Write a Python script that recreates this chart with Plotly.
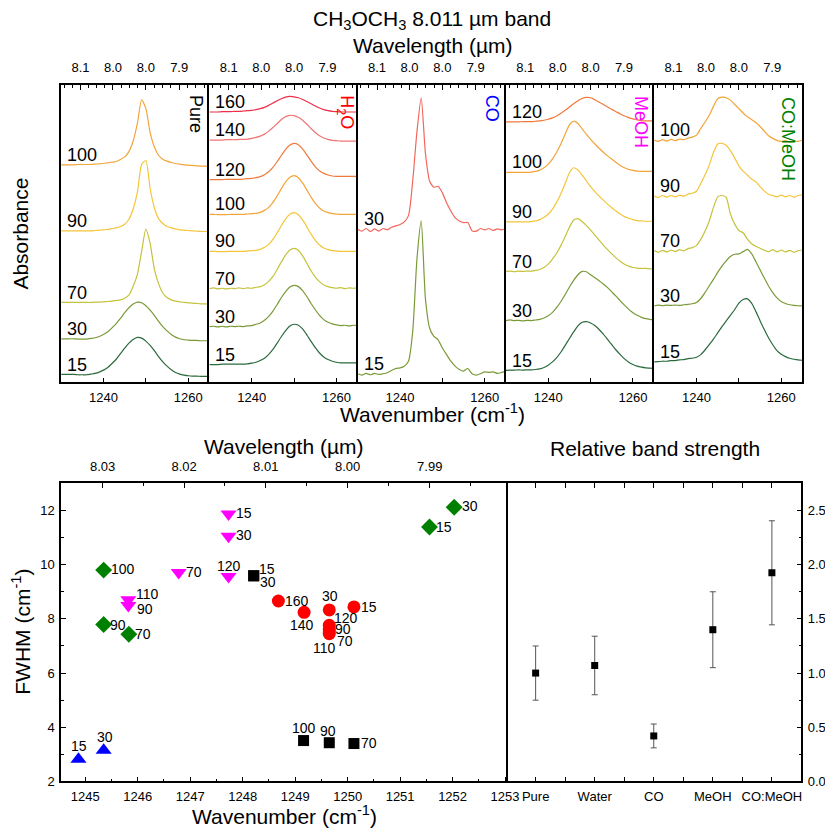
import plotly.graph_objects as go

W, H = 833, 830
FONT = "Liberation Sans, Arial, sans-serif"

# wavenumber grid of the spectra (cm-1)
WN = [1230, 1231, 1232, 1233, 1234, 1235, 1236, 1237, 1238, 1239,
      1240, 1241, 1242, 1243, 1244, 1245, 1246, 1247, 1248, 1249,
      1250, 1251, 1252, 1253, 1254, 1255, 1256, 1257, 1258, 1259,
      1260, 1261, 1262, 1263, 1264, 1265]

# absorbance + offset, keyed by temperature (K)
PURE = {
    15: [0.24, 0.24, 0.24, 0.24, 0.23, 0.23, 0.23, 0.25, 0.27, 0.31, 0.37, 0.45, 0.57, 0.70, 0.87, 1.04, 1.19, 1.30, 1.36, 1.34,
         1.25, 1.12, 0.96, 0.78, 0.62, 0.49, 0.38, 0.30, 0.25, 0.22, 0.20, 0.19, 0.19, 0.18, 0.18, 0.18],
    30: [1.32, 1.32, 1.32, 1.32, 1.31, 1.31, 1.31, 1.33, 1.35, 1.39, 1.45, 1.53, 1.65, 1.78, 1.94, 2.11, 2.26, 2.37, 2.43, 2.41,
         2.32, 2.19, 2.03, 1.85, 1.69, 1.56, 1.45, 1.37, 1.32, 1.29, 1.28, 1.27, 1.27, 1.26, 1.26, 1.26],
    70: [2.42, 2.42, 2.42, 2.42, 2.42, 2.42, 2.42, 2.42, 2.43, 2.43, 2.44, 2.45, 2.46, 2.48, 2.50, 2.55, 2.64, 2.91, 3.27, 3.97,
         4.64, 4.21, 3.43, 2.99, 2.70, 2.57, 2.50, 2.46, 2.44, 2.42, 2.41, 2.40, 2.39, 2.38, 2.38, 2.37],
    90: [4.59, 4.59, 4.59, 4.59, 4.59, 4.59, 4.59, 4.59, 4.60, 4.61, 4.62, 4.63, 4.66, 4.68, 4.72, 4.79, 4.94, 5.25, 5.76, 6.60,
         6.72, 5.88, 5.29, 4.96, 4.81, 4.72, 4.68, 4.65, 4.62, 4.61, 4.60, 4.59, 4.58, 4.57, 4.57, 4.56],
    100: [6.59, 6.59, 6.59, 6.59, 6.60, 6.60, 6.60, 6.60, 6.61, 6.62, 6.63, 6.65, 6.67, 6.69, 6.75, 6.83, 6.99, 7.31, 7.85, 8.56,
          8.30, 7.57, 7.13, 6.88, 6.76, 6.70, 6.66, 6.63, 6.61, 6.59, 6.58, 6.57, 6.56, 6.55, 6.55, 6.54],
}

H2O = {
    15: [0.54, 0.54, 0.54, 0.55, 0.55, 0.55, 0.55, 0.55, 0.55, 0.56, 0.58, 0.61, 0.66, 0.73, 0.85, 1.00, 1.19, 1.39, 1.57, 1.71,
         1.76, 1.73, 1.62, 1.44, 1.24, 1.05, 0.89, 0.77, 0.69, 0.64, 0.61, 0.59, 0.59, 0.59, 0.59, 0.59],
    30: [1.69, 1.70, 1.68, 1.70, 1.68, 1.70, 1.69, 1.70, 1.69, 1.71, 1.72, 1.76, 1.80, 1.88, 2.00, 2.16, 2.36, 2.57, 2.75, 2.89,
         2.94, 2.90, 2.78, 2.60, 2.39, 2.20, 2.03, 1.90, 1.82, 1.77, 1.74, 1.72, 1.73, 1.71, 1.73, 1.72],
    70: [2.84, 2.86, 2.83, 2.85, 2.83, 2.85, 2.84, 2.86, 2.84, 2.86, 2.85, 2.88, 2.90, 2.96, 3.06, 3.21, 3.42, 3.65, 3.86, 4.01,
         4.06, 4.00, 3.83, 3.61, 3.38, 3.19, 3.05, 2.95, 2.90, 2.87, 2.85, 2.87, 2.84, 2.86, 2.85, 2.86],
    90: [3.97, 3.97, 3.96, 3.96, 3.96, 3.97, 3.97, 3.97, 3.97, 3.98, 3.99, 4.00, 4.03, 4.09, 4.18, 4.33, 4.53, 4.75, 4.95, 5.09,
         5.14, 5.08, 4.92, 4.71, 4.49, 4.30, 4.16, 4.07, 4.02, 3.99, 3.98, 3.97, 3.97, 3.97, 3.97, 3.97],
    100: [5.09, 5.09, 5.08, 5.08, 5.08, 5.09, 5.09, 5.09, 5.09, 5.10, 5.11, 5.12, 5.15, 5.21, 5.30, 5.45, 5.65, 5.87, 6.07, 6.21,
          6.26, 6.20, 6.04, 5.83, 5.61, 5.42, 5.28, 5.19, 5.14, 5.11, 5.10, 5.09, 5.09, 5.09, 5.09, 5.09],
    120: [6.14, 6.14, 6.14, 6.14, 6.15, 6.15, 6.15, 6.15, 6.16, 6.17, 6.18, 6.20, 6.23, 6.29, 6.38, 6.51, 6.69, 6.88, 7.06, 7.19,
          7.24, 7.20, 7.07, 6.89, 6.70, 6.53, 6.41, 6.33, 6.28, 6.25, 6.24, 6.24, 6.24, 6.24, 6.24, 6.24],
    140: [7.34, 7.34, 7.34, 7.34, 7.35, 7.35, 7.35, 7.36, 7.36, 7.37, 7.39, 7.42, 7.46, 7.52, 7.61, 7.72, 7.84, 7.96, 8.05, 8.09,
          8.08, 8.03, 7.94, 7.82, 7.69, 7.57, 7.47, 7.40, 7.36, 7.33, 7.32, 7.31, 7.31, 7.31, 7.31, 7.31],
    160: [8.19, 8.19, 8.19, 8.20, 8.20, 8.20, 8.21, 8.21, 8.22, 8.23, 8.24, 8.26, 8.29, 8.33, 8.39, 8.46, 8.53, 8.59, 8.64, 8.66,
          8.65, 8.62, 8.57, 8.51, 8.44, 8.37, 8.31, 8.26, 8.23, 8.21, 8.20, 8.19, 8.19, 8.19, 8.19, 8.19],
}

CO = {
    15: [0.26, 0.22, 0.27, 0.23, 0.27, 0.24, 0.26, 0.29, 0.36, 0.42, 0.44, 0.49, 0.64, 1.54, 3.74, 4.89, 2.54, 1.64, 1.39, 1.29,
         1.04, 0.84, 0.64, 0.49, 0.39, 0.34, 0.42, 0.26, 0.22, 0.26, 0.32, 0.30, 0.32, 0.27, 0.30, 0.33],
    30: [4.64, 4.58, 4.66, 4.57, 4.65, 4.58, 4.66, 4.62, 4.70, 4.74, 4.78, 4.86, 5.05, 6.10, 7.60, 8.62, 6.94, 6.09, 5.91, 5.94,
         5.74, 5.44, 5.19, 4.99, 4.89, 4.84, 4.84, 4.59, 4.58, 4.66, 4.62, 4.66, 4.60, 4.65, 4.62, 4.66],
}

MEOH = {
    15: [0.36, 0.37, 0.37, 0.38, 0.37, 0.38, 0.38, 0.39, 0.41, 0.45, 0.52, 0.62, 0.75, 0.92, 1.12, 1.33, 1.53, 1.71, 1.82, 1.84,
         1.80, 1.72, 1.60, 1.46, 1.30, 1.14, 0.98, 0.84, 0.71, 0.61, 0.54, 0.49, 0.46, 0.44, 0.43, 0.42],
    30: [1.87, 1.89, 1.87, 1.88, 1.86, 1.88, 1.87, 1.89, 1.91, 1.95, 2.02, 2.12, 2.27, 2.45, 2.66, 2.89, 3.09, 3.26, 3.36, 3.35,
         3.26, 3.17, 3.08, 2.98, 2.87, 2.74, 2.61, 2.47, 2.34, 2.21, 2.11, 2.03, 1.97, 1.93, 1.91, 1.90],
    70: [3.36, 3.37, 3.35, 3.37, 3.36, 3.37, 3.37, 3.39, 3.42, 3.48, 3.58, 3.73, 3.92, 4.15, 4.42, 4.70, 4.92, 4.96, 4.87, 4.75,
         4.61, 4.46, 4.31, 4.16, 4.02, 3.89, 3.77, 3.67, 3.58, 3.52, 3.48, 3.46, 3.45, 3.45, 3.44, 3.44],
    90: [4.86, 4.86, 4.86, 4.86, 4.86, 4.86, 4.87, 4.89, 4.93, 5.00, 5.10, 5.25, 5.46, 5.72, 6.03, 6.35, 6.50, 6.43, 6.28, 6.10,
         5.93, 5.78, 5.64, 5.52, 5.40, 5.29, 5.19, 5.10, 5.02, 4.97, 4.93, 4.90, 4.89, 4.88, 4.88, 4.88],
    100: [6.36, 6.36, 6.36, 6.36, 6.36, 6.36, 6.37, 6.39, 6.43, 6.50, 6.61, 6.77, 6.98, 7.23, 7.52, 7.80, 7.91, 7.84, 7.68, 7.51,
          7.36, 7.22, 7.09, 6.97, 6.86, 6.76, 6.66, 6.57, 6.50, 6.45, 6.42, 6.40, 6.39, 6.39, 6.39, 6.39],
    120: [7.89, 7.89, 7.89, 7.89, 7.90, 7.90, 7.90, 7.91, 7.92, 7.94, 7.97, 8.01, 8.07, 8.15, 8.24, 8.34, 8.44, 8.53, 8.60, 8.63,
          8.62, 8.56, 8.49, 8.42, 8.34, 8.27, 8.20, 8.13, 8.07, 8.02, 7.98, 7.95, 7.93, 7.92, 7.92, 7.92],
}

COMEOH = {
    15: [0.62, 0.63, 0.64, 0.64, 0.66, 0.66, 0.68, 0.69, 0.72, 0.73, 0.76, 0.84, 0.98, 1.14, 1.31, 1.50, 1.69, 1.86, 2.03, 2.20,
         2.40, 2.51, 2.53, 2.40, 2.15, 1.87, 1.60, 1.35, 1.14, 0.96, 0.85, 0.78, 0.73, 0.70, 0.68, 0.67],
    30: [2.32, 2.34, 2.32, 2.34, 2.33, 2.34, 2.33, 2.35, 2.36, 2.38, 2.42, 2.54, 2.72, 2.92, 3.12, 3.33, 3.52, 3.68, 3.81, 3.88,
         3.89, 3.96, 4.03, 3.90, 3.66, 3.41, 3.16, 2.92, 2.72, 2.56, 2.45, 2.39, 2.35, 2.33, 2.32, 2.32],
    70: [3.99, 3.94, 4.00, 3.95, 4.01, 3.96, 4.02, 3.98, 4.05, 4.08, 4.15, 4.33, 4.58, 4.88, 5.30, 5.62, 5.66, 5.60, 5.10, 4.80,
         4.60, 4.53, 4.34, 4.20, 4.12, 4.06, 4.00, 3.96, 4.02, 3.95, 4.01, 3.95, 4.00, 3.94, 3.99, 4.01],
    90: [5.64, 5.60, 5.66, 5.61, 5.66, 5.62, 5.67, 5.64, 5.70, 5.73, 5.79, 6.02, 6.28, 6.58, 6.96, 7.22, 7.24, 7.18, 7.02, 6.80,
         6.56, 6.40, 6.28, 6.16, 6.08, 5.93, 5.80, 5.70, 5.66, 5.62, 5.67, 5.62, 5.66, 5.61, 5.66, 5.68],
    100: [7.34, 7.30, 7.35, 7.31, 7.36, 7.32, 7.37, 7.35, 7.40, 7.43, 7.49, 7.69, 7.88, 8.09, 8.36, 8.59, 8.64, 8.62, 8.55, 8.42,
          8.29, 8.16, 8.05, 7.96, 7.87, 7.75, 7.61, 7.47, 7.39, 7.33, 7.30, 7.32, 7.28, 7.31, 7.30, 7.34],
}

# top wavelength axis of the spectra (um)
WL_TICKS = [8.10, 8.05, 8.00, 7.95]
WL_TEXT = ["8.1", "8.0", "8.0", "7.9"]
WL_MINOR = [8.125, 8.1125, 8.0875, 8.075, 8.0625, 8.0375, 8.025, 8.0125,
            7.9875, 7.975, 7.9625, 7.9375, 7.925, 7.9125]

# FWHM vs peak position
PURE_T = ["15", "30", "70", "90", "100"]
PURE_WN = [1248.21, 1248.21, 1250.12, 1249.65, 1249.16]
PURE_FWHM = [9.59, 9.59, 3.40, 3.43, 3.51]

H2O_T = ["15", "30", "70", "90", "110", "120", "140", "160"]
H2O_WN = [1250.12, 1249.65, 1249.65, 1249.65, 1249.65, 1249.65, 1249.17, 1248.68]
H2O_FWHM = [8.44, 8.33, 7.45, 7.61, 7.52, 7.76, 8.24, 8.66]

CO_T = ["15", "30"]
CO_WN = [1244.87, 1245.35]
CO_FWHM = [2.82, 3.15]

MEOH_T = ["15", "30", "70", "90", "110", "120"]
MEOH_WN = [1247.73, 1247.73, 1246.78, 1245.82, 1245.82, 1247.73]
MEOH_FWHM = [11.87, 11.05, 9.71, 8.49, 8.71, 9.56]

COMEOH_T = ["15", "30", "70", "90", "100"]
COMEOH_WN = [1251.56, 1252.03, 1245.83, 1245.35, 1245.35]
COMEOH_FWHM = [11.39, 12.12, 7.43, 7.79, 9.80]

SC_WL_TICKS = [8.03, 8.02, 8.01, 8.00, 7.99]
SC_WL_MINOR = [8.035, 8.025, 8.015, 8.005, 7.995, 7.985]

# relative band strength
MIXTURES = ["Pure", "Water", "CO", "MeOH", "CO:MeOH"]
STRENGTH = [1.00, 1.07, 0.42, 1.40, 1.925]
STRENGTH_ERR = [0.25, 0.27, 0.11, 0.35, 0.48]

TEMP_COLORS = {15: "#2b6a3c", 30: "#7a9a38", 70: "#c5c23c", 90: "#f4c53a", 100: "#f3a43a",
               120: "#ef7a3c", 140: "#f27474", 160: "#ec2f4a"}
CO_COLORS = {15: "#7a9a38", 30: "#f2665c"}


def fx(p):
    return p / W


def fy(p):
    return 1 - p / H


def ax_style(**kw):
    d = dict(showline=True, linecolor="black", linewidth=1.5, showgrid=False, zeroline=False,
             tickfont=dict(size=13, color="black", family=FONT), tickcolor="black", ticklabelstandoff=2)
    d.update(kw)
    return d


fig = go.Figure()
annotations = []
layout = {}

panels = [
    (PURE, "Pure", "black", 191, 107),
    (H2O, "H<sub>2</sub>O", "#ff0000", 342, 105),
    (CO, "CO", "#0000ff", 492, 101),
    (MEOH, "MeOH", "#ff00ff", 643, 115),
    (COMEOH, "CO:MeOH", "#008000", 793, 132),
]
edges = [54, 204.6, 355.2, 505.8, 656.4, 807]

for i, (data, name, ncol, nx, ny) in enumerate(panels):
    n = i + 1
    xa = "x" if n == 1 else f"x{n}"
    ya = "y" if n == 1 else f"y{n}"
    top = f"x{n + 5}"
    for temp, ys in data.items():
        col = CO_COLORS[temp] if data is CO else TEMP_COLORS[temp]
        fig.add_trace(go.Scatter(x=WN, y=ys, mode="lines", xaxis=xa, yaxis=ya,
                                 line=dict(color=col, width=1.2, shape="spline", smoothing=0.6),
                                 showlegend=False, hoverinfo="skip"))
        annotations.append(dict(x=fx(edges[i] + 4), xref="paper", xanchor="left",
                                y=ys[0] + 0.3, yref=ya, yanchor="middle", showarrow=False,
                                text=str(temp), font=dict(size=18, color="black", family=FONT)))
    # invisible trace so the top axis is drawn
    fig.add_trace(go.Scatter(x=[WN[0]], y=[0], xaxis=top, yaxis=ya, mode="markers",
                             marker=dict(opacity=0), showlegend=False, hoverinfo="skip"))
    annotations.append(dict(x=fx(nx), y=fy(ny), xref="paper", yref="paper", text=name,
                            xanchor="center", yanchor="middle", textangle=90, showarrow=False,
                            font=dict(size=18, color=ncol, family=FONT)))

    layout[f"xaxis{n}"] = ax_style(domain=[fx(edges[i]), fx(edges[i + 1])], range=[1230, 1265], anchor=ya,
                                   tickvals=[1240, 1260], ticks="inside", ticklen=5,
                                   minor=dict(tickvals=[1250], ticks="inside", ticklen=5, tickcolor="black"))
    layout[f"yaxis{n}"] = ax_style(domain=[fy(378), fy(78)], range=[0, 9.0], anchor=xa,
                                   mirror=(n == len(panels)), showticklabels=False, ticks="")
    layout[f"xaxis{n + 5}"] = ax_style(overlaying=xa, side="top", anchor=ya, range=[1230, 1265],
                                       tickvals=[1e4 / v for v in WL_TICKS], ticktext=WL_TEXT,
                                       ticks="inside", ticklen=5, ticklabelstandoff=6,
                                       minor=dict(tickvals=[1e4 / v for v in WL_MINOR], ticks="inside",
                                                  ticklen=3, tickcolor="black"))

# ---- FWHM scatter; label offsets (px right, px down) from each marker
groups = [
    (PURE_WN, PURE_FWHM, PURE_T, "square", 11, "black",
     [(13, -7), (14, 6), (15, -1), (-1, -12), (0, -13)]),
    (H2O_WN, H2O_FWHM, H2O_T, "circle", 13, "#ff0000",
     [(15, 0), (1, -14), (16, 7), (14, 0), (-5, 16), (17, -7), (-2, 13), (19, 0)]),
    (CO_WN, CO_FWHM, CO_T, "triangle-up", 14, "#0000ff", [(1, -13), (1, -13)]),
    (MEOH_WN, MEOH_FWHM, MEOH_T, "triangle-down", 14, "#ff00ff",
     [(15, -1), (15, -1), (15, -1), (17, 3), (19, -6), (0, -11)]),
    (COMEOH_WN, COMEOH_FWHM, COMEOH_T, "diamond", 13, "#008000",
     [(15, 0), (16, -1), (14, 0), (14, 0), (19, -1)]),
]
for xs, ys, labels, sym, size, col, offs in groups:
    fig.add_trace(go.Scatter(x=xs, y=ys, mode="markers", xaxis="x11", yaxis="y11",
                             marker=dict(symbol=sym, size=size, color=col, line=dict(width=0)),
                             showlegend=False, hoverinfo="skip", cliponaxis=False))
    for x, y, lab, (dx, dy) in zip(xs, ys, labels, offs):
        annotations.append(dict(x=x, y=y, xref="x11", yref="y11", text=lab, showarrow=False,
                                xanchor="center", yanchor="middle", xshift=dx, yshift=-dy,
                                font=dict(size=14, color="black", family=FONT)))
fig.add_trace(go.Scatter(x=[PURE_WN[0]], y=[PURE_FWHM[0]], xaxis="x12", yaxis="y11", mode="markers",
                         marker=dict(opacity=0), showlegend=False, hoverinfo="skip"))

sc_range = [1244.54, 1253.02]
layout["xaxis11"] = ax_style(domain=[fx(54), fx(506)], range=sc_range, anchor="y11", tick0=1245, dtick=1,
                             ticks="inside", ticklen=5,
                             minor=dict(dtick=0.5, ticks="inside", ticklen=3, tickcolor="black"))
layout["yaxis11"] = ax_style(domain=[fy(781), fy(480)], range=[2, 13], anchor="x11", tick0=2, dtick=2,
                             mirror=True, ticks="inside", ticklen=5,
                             minor=dict(dtick=1, ticks="inside", ticklen=3, tickcolor="black"))
layout["xaxis12"] = ax_style(overlaying="x11", side="top", anchor="y11", range=sc_range,
                             tickvals=[1e4 / v for v in SC_WL_TICKS], ticktext=[f"{v:.2f}" for v in SC_WL_TICKS],
                             ticks="inside", ticklen=5, ticklabelstandoff=5,
                             minor=dict(tickvals=[1e4 / v for v in SC_WL_MINOR], ticks="inside", ticklen=3,
                                        tickcolor="black"))

# ---- relative band strength
xpos = list(range(1, len(MIXTURES) + 1))
fig.add_trace(go.Scatter(x=xpos, y=STRENGTH, mode="markers", xaxis="x13", yaxis="y13",
                         marker=dict(symbol="square", size=7, color="black"),
                         error_y=dict(type="data", array=STRENGTH_ERR, color="#555555", thickness=1, width=3),
                         showlegend=False, hoverinfo="skip"))
layout["xaxis13"] = ax_style(domain=[fx(506), fx(806)], range=[0.5, 5.5], anchor="y13",
                             tickvals=xpos, ticktext=MIXTURES, ticks="inside", ticklen=5, mirror="ticks",
                             minor=dict(tickvals=[p + 0.5 for p in xpos[:-1]], ticks="inside", ticklen=5,
                                        tickcolor="black"))
layout["yaxis13"] = ax_style(domain=[fy(781), fy(480)], range=[0, 2.75], anchor="x13", side="right",
                             dtick=0.5, tickformat=".1f", ticks="inside", ticklen=5,
                             minor=dict(dtick=0.25, ticks="inside", ticklen=3, tickcolor="black"))

# ---- titles
big = dict(size=21, color="black", family=FONT)
titles = [
    ("CH<sub>3</sub>OCH<sub>3</sub> 8.011 µm band", 431, 12, 0),
    ("Wavelength (µm)", 432, 38, 0),
    ("Wavenumber (cm<sup>-1</sup>)", 431, 409, 0),
    ("Absorbance", 13, 228, -90),
    ("Wavelength (µm)", 280, 443, 0),
    ("Wavenumber (cm<sup>-1</sup>)", 281, 815, 0),
    ("FWHM (cm<sup>-1</sup>)", 13, 630, -90),
    ("Relative band strength", 657, 445, 0),
]
for text, x, y, ang in titles:
    annotations.append(dict(x=fx(x), y=fy(y), xref="paper", yref="paper", text=text, textangle=ang,
                            showarrow=False, xanchor="center", yanchor="middle", font=big))

fig.update_layout(
    width=W, height=H,
    margin=dict(l=0, r=0, t=0, b=0),
    paper_bgcolor="white", plot_bgcolor="white",
    font=dict(family=FONT, color="black"),
    annotations=annotations,
    **layout,
)

fig.write_html("out.html")
